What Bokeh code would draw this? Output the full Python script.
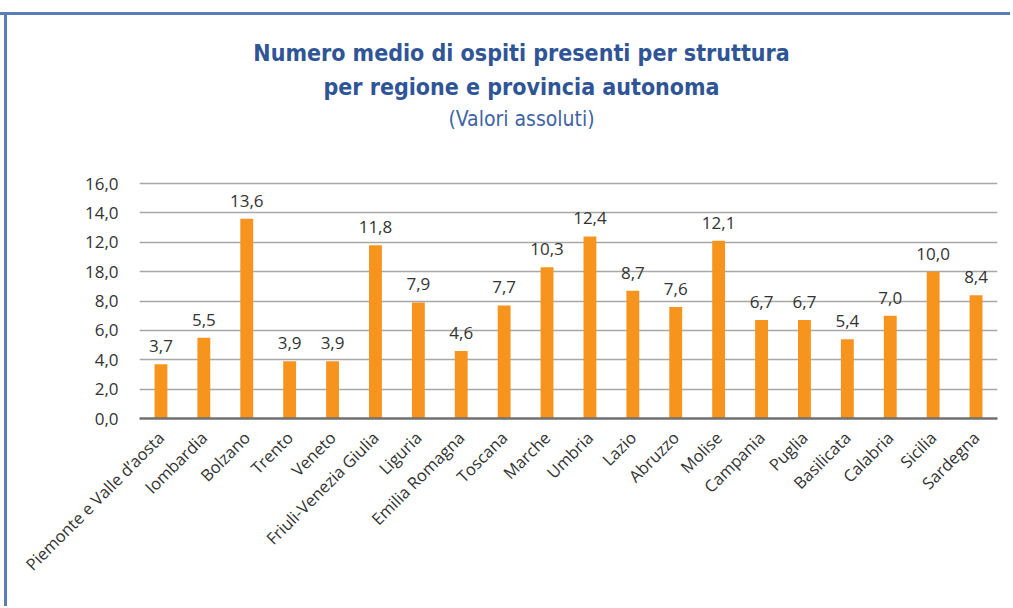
import math
from bokeh.plotting import figure
from bokeh.models import ColumnDataSource, LabelSet, Label, FixedTicker
from bokeh.core.properties import value
from bokeh.embed import file_html
from bokeh.resources import INLINE

regions = ["Piemonte e Valle d\u2019aosta", "lombardia", "Bolzano", "Trento", "Veneto",
           "Friuli-Venezia Giulia", "Liguria", "Emilia Romagna", "Toscana", "Marche",
           "Umbria", "Lazio", "Abruzzo", "Molise", "Campania", "Puglia", "Basilicata",
           "Calabria", "Sicilia", "Sardegna"]
ospiti = [3.7, 5.5, 13.6, 3.9, 3.9, 11.8, 7.9, 4.6, 7.7, 10.3,
          12.4, 8.7, 7.6, 12.1, 6.7, 6.7, 5.4, 7.0, 10.0, 8.4]
y_ticks = [0, 2, 4, 6, 8, 10, 12, 14, 16]
y_tick_labels = ["0,0", "2,0", "4,0", "6,0", "8,0", "18,0", "12,0", "14,0", "16,0"]

title_1 = "Numero medio di ospiti presenti per struttura"
title_2 = "per regione e provincia autonoma"
subtitle = "(Valori assoluti)"

FONT = "Open Sans"
COND = "DejaVu Sans Condensed, Roboto, sans-serif"
BLUE = "#5B7DB8"

# layout (pixels): the frame reaches up into the title area so the titles can sit in it
W, H = 1010, 606
BORDER_L, BORDER_R, BORDER_T, BORDER_B = 139, 13, 15, 188
AXIS_TOP_PX = 183                       # where the 16,0 gridline sits
frame_h = H - BORDER_T - BORDER_B
axis_h = H - BORDER_B - AXIS_TOP_PX
y_max = 16 * frame_h / axis_h

src = ColumnDataSource(dict(
    regione=regions,
    ospiti=ospiti,
    etichetta=[f"{v:.1f}".replace(".", ",") for v in ospiti],
))

p = figure(x_range=regions, y_range=(0, y_max), width=W, height=H,
           output_backend="svg", toolbar_location=None, title=None,
           min_border_left=BORDER_L, min_border_right=BORDER_R,
           min_border_top=BORDER_T, min_border_bottom=BORDER_B)
p.outline_line_color = None
p.background_fill_color = "white"
p.border_fill_color = None

p.vbar(x="regione", top="ospiti", width=0.3, source=src,
       fill_color="#F7941D", line_color=None)

labels = LabelSet(x="regione", y="ospiti", text="etichetta", source=src,
                  text_align="center", text_baseline="bottom", y_offset=12,
                  text_font=value(FONT), text_font_size="17px", text_color="#333333")
p.add_layout(labels)

p.yaxis.ticker = FixedTicker(ticks=y_ticks)
p.yaxis.major_label_overrides = {t: l for t, l in zip(y_ticks, y_tick_labels)}
p.yaxis.axis_line_color = None
p.yaxis.major_tick_line_color = None
p.yaxis.minor_tick_line_color = None
p.yaxis.major_label_standoff = 15
p.yaxis.major_label_text_font = FONT
p.yaxis.major_label_text_font_size = "17px"
p.yaxis.major_label_text_color = "#333333"

p.xaxis.axis_line_color = "#707070"
p.xaxis.axis_line_width = 2.5
p.xaxis.major_tick_line_color = None
p.xaxis.minor_tick_line_color = None
p.xaxis.major_label_orientation = math.pi / 4
p.xaxis.major_label_standoff = 10
p.xaxis.major_label_text_font = FONT
p.xaxis.major_label_text_font_size = "16.5px"
p.xaxis.major_label_text_color = "#333333"

p.xgrid.grid_line_color = None
p.ygrid.grid_line_color = "#A8A8A8"
p.ygrid.grid_line_width = 1.5

# title lines: baselines in px from the top of the figure, centre in px from its left
for txt, base, size, style, col in [(title_1, 52, "23px", "bold", "#2F5597"),
                                    (title_2, 86, "23px", "bold", "#2F5597"),
                                    (subtitle, 118, "21px", "normal", "#3F63A6")]:
    p.add_layout(Label(x=521 - BORDER_L, y=H - BORDER_B - base,
                       x_units="screen", y_units="screen", text=txt,
                       text_align="center", text_baseline="alphabetic",
                       text_font=COND, text_font_size=size,
                       text_font_style=style, text_color=col))

p.styles = {
    "background": (f"linear-gradient({BLUE},{BLUE}) 0 12px / 100% 3px no-repeat, "
                   f"linear-gradient({BLUE},{BLUE}) 4px 12px / 3px 100% no-repeat, white"),
}

open("out.html", "w").write(file_html(p, INLINE))
